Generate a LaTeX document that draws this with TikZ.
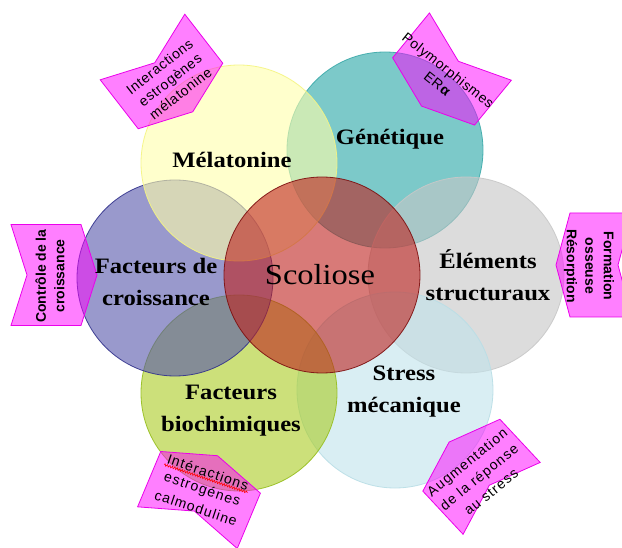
\documentclass[tikz,border=0pt]{standalone}
\usepackage{fontspec}
\setmainfont{Liberation Serif}
\newfontfamily\lblfont[FakeStretch=1.12]{Liberation Serif}
\newfontfamily\sansplain{Liberation Sans}
\newfontfamily\chevfont[LetterSpace=5]{Liberation Sans}
\newfontfamily\chevfontw[LetterSpace=8]{Liberation Sans}
\usetikzlibrary{decorations.pathmorphing}

\definecolor{cYel}{RGB}{255,255,170}
\definecolor{cYelD}{RGB}{245,245,130}
\definecolor{cTeal}{RGB}{37,165,165}
\definecolor{cTealD}{RGB}{60,170,170}
\definecolor{cGray}{RGB}{198,198,198}
\definecolor{cGrayD}{RGB}{200,200,200}
\definecolor{cBlue}{RGB}{193,227,235}
\definecolor{cBlueD}{RGB}{185,222,230}
\definecolor{cGreen}{RGB}{170,204,34}
\definecolor{cGreenD}{RGB}{150,190,30}
\definecolor{cPurp}{RGB}{85,85,170}
\definecolor{cPurpD}{RGB}{50,50,140}
\definecolor{cRed}{RGB}{190,34,30}
\definecolor{cRedD}{RGB}{125,15,15}
\definecolor{cChev}{RGB}{255,0,255}
\definecolor{cChevD}{RGB}{235,0,235}

\tikzset{
  circ/.style={circle, minimum size=196pt, inner sep=0pt, fill opacity=0.6, draw opacity=0.9, line width=0.8pt},
  lbl/.style={font=\lblfont\bfseries\fontsize{22}{32}\selectfont, align=center, text=black},
  chevbox/.style={draw=cChevD, fill=cChev, fill opacity=0.5, line width=0.8pt, line join=miter},
  chevtxt/.style={font=\chevfont\fontsize{14}{17}\selectfont, align=center, inner sep=0pt, text=black},
  chevbold/.style={font=\sansplain\bfseries\fontsize{14}{18.5}\selectfont, align=center, inner sep=0pt, text=black},
  chevwide/.style={font=\chevfontw\fontsize{14}{19}\selectfont, align=center, inner sep=0pt, text=black},
  spell/.style={red, line width=0.6pt, decorate, decoration={snake, amplitude=1.1pt, segment length=2.6pt}},
}

% #1,#2 centre (px), #3 rotation, #4 half width, #5 half length, #6 notch depth
\newcommand{\chevron}[6]{%
  \begin{scope}[shift={(#1,#2)}, rotate=#3]
    \path[chevbox] (-#4pt,#5pt) -- (0pt,{#5pt-#6pt}) -- (#4pt,#5pt) -- (#4pt,-#5pt)
      -- (0pt,{-#5pt-#6pt}) -- (-#4pt,-#5pt) -- cycle;
  \end{scope}}

\begin{document}
\begin{tikzpicture}[x=1pt,y=-1pt]
\useasboundingbox (0,0) rectangle (622,548);
\clip (0,0) rectangle (622,548);
\fill[white] (0,0) rectangle (622,548);

% circles
\node[circ, fill=cTeal, draw=cTealD] (teal) at (385,150) {};
\node[circ, fill=cGray, draw=cGrayD] (gray) at (466,275) {};
\node[circ, fill=cBlue, draw=cBlueD] (blue) at (395,390) {};
\node[circ, fill=cGreen, draw=cGreenD] (green) at (239,393) {};
\node[circ, fill=cPurp, draw=cPurpD] (purp) at (175,278) {};
\node[circ, fill=cYel, draw=cYelD] (yel) at (239,163) {};
\node[circ, fill=cRed, draw=cRedD] (red) at (322,275) {};

% chevrons
\chevron{161.5}{71.5}{37.8}{53.5}{31}{20}
\chevron{452}{69}{-39.4}{53}{29}{19}
\chevron{46}{275}{90}{50.5}{35}{16}
\chevron{601}{265}{-90}{52}{31}{14}
\chevron{199}{500}{157.3}{54}{30}{18}
\chevron{481.5}{476.8}{-137}{52.7}{29.5}{18}

% circle labels
\node[lbl] (tMel) at (232,160) {Mélatonine};
\node[lbl] (tGen) at (390,139) {Génétique};
\node[lbl] (tCro) at (156,282) {Facteurs de\\croissance};
\node[lbl] (tEle) at (488,275) {Éléments\\structuraux};
\node[lbl] (tStr) at (404,392) {Stress\\mécanique};
\node[lbl] (tBio) at (231,411) {Facteurs\\biochimiques};
\node[font=\lblfont\fontsize{29}{34}\selectfont, text=black] (tSco) at (320,275) {Scoliose};

% chevron texts
\node[chevtxt, rotate=38] (x1) at (170,80) {Interactions\\estrogènes\\mélatonine};
\node[chevtxt, rotate=-38.5] (x2) at (443,77) {Polymorphismes\\ER\textbf{α}};
\node[chevbold, rotate=90] (x3) at (50,276) {Contrôle de la\\croissance};
\node[chevbold, rotate=-90] (x4) at (589,266) {Formation\\osseuse\\Résorption};
\node[chevwide, rotate=39] (x6) at (479,477) {Augmentation\\de la réponse\\au stress};
\begin{scope}[shift={(202,490)}, rotate=-18.5]
  \node[chevwide, transform shape, inner sep=1.5pt] (x5a) at (0pt,19pt) {Intéractions};
  \node[chevwide, transform shape] (x5b) at (0pt,0pt) {estrogénes};
  \node[chevwide, transform shape] (x5c) at (0pt,-19pt) {calmoduline};
\end{scope}
\draw[spell] (x5a.south west) -- (x5a.south east);
\end{tikzpicture}
\end{document}
